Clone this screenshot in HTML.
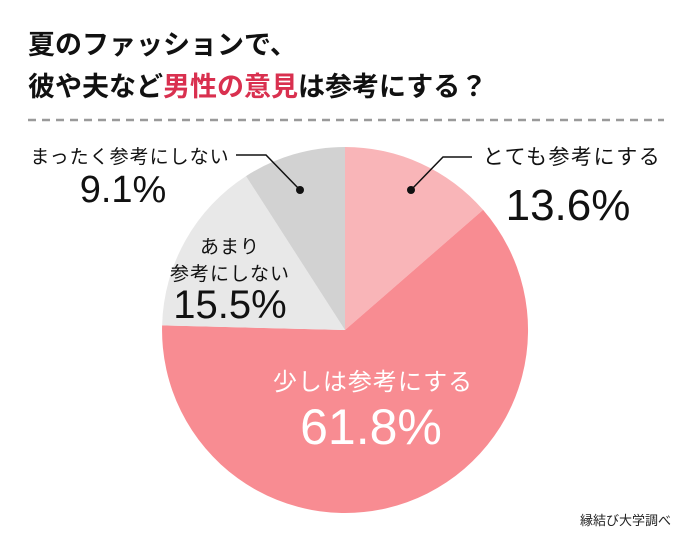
<!DOCTYPE html>
<html><head><meta charset="utf-8"><style>
html,body{margin:0;padding:0;background:#fff;}
svg{display:block;}
.t{font-family:"Liberation Sans","Noto Sans CJK JP",sans-serif;}
</style></head><body>
<svg width="690" height="542" viewBox="0 0 690 542" xmlns="http://www.w3.org/2000/svg">
<text class="t" x="28" y="54" font-size="27" font-weight="bold" fill="#111">夏のファッションで、</text>
<text class="t" x="28" y="96" font-size="27" font-weight="bold" fill="#111">彼や夫など<tspan fill="#d9304f">男性の意見</tspan>は参考にする？</text>
<line x1="28" y1="120" x2="664" y2="120" stroke="#9a9a9a" stroke-width="2.5" stroke-dasharray="8,6"/>
<path d="M345,330 L345,147 A183,183 0 0 1 483.1,209.9 Z" fill="#f9b5b8"/>
<path d="M345,330 L483.1,209.9 A183,183 0 1 1 162.1,325.4 Z" fill="#f88c92"/>
<path d="M345,330 L162.1,325.4 A183,183 0 0 1 246,176.1 Z" fill="#e8e8e8"/>
<path d="M345,330 L246,176.1 A183,183 0 0 1 345,147 Z" fill="#d2d2d2"/>
<polyline points="411,190 443,157 472,157" fill="none" stroke="#111" stroke-width="1.5"/>
<circle cx="411" cy="190" r="4" fill="#111"/>
<polyline points="236,155 266,155 300,190" fill="none" stroke="#111" stroke-width="1.5"/>
<circle cx="300" cy="190" r="4" fill="#111"/>
<text class="t" x="572" y="164" font-size="21" letter-spacing="1.5" text-anchor="middle" fill="#111">とても参考にする</text>
<text class="t" x="568" y="220" font-size="44" text-anchor="middle" fill="#111">13.6%</text>
<text class="t" x="130" y="163" font-size="19" letter-spacing="1" text-anchor="middle" fill="#111">まったく参考にしない</text>
<text class="t" x="123" y="202" font-size="38" text-anchor="middle" fill="#111">9.1%</text>
<text class="t" x="230" y="253" font-size="19" letter-spacing="1" text-anchor="middle" fill="#111">あまり</text>
<text class="t" x="230" y="280" font-size="19" letter-spacing="1" text-anchor="middle" fill="#111">参考にしない</text>
<text class="t" x="230" y="318" font-size="40" text-anchor="middle" fill="#111">15.5%</text>
<text class="t" x="373" y="390" font-size="24" letter-spacing="1" text-anchor="middle" fill="#fff">少しは参考にする</text>
<text class="t" x="371" y="444" font-size="50" text-anchor="middle" fill="#fff">61.8%</text>
<text class="t" x="580" y="525" font-size="13" fill="#222">縁結び大学調べ</text>
</svg>
</body></html>
